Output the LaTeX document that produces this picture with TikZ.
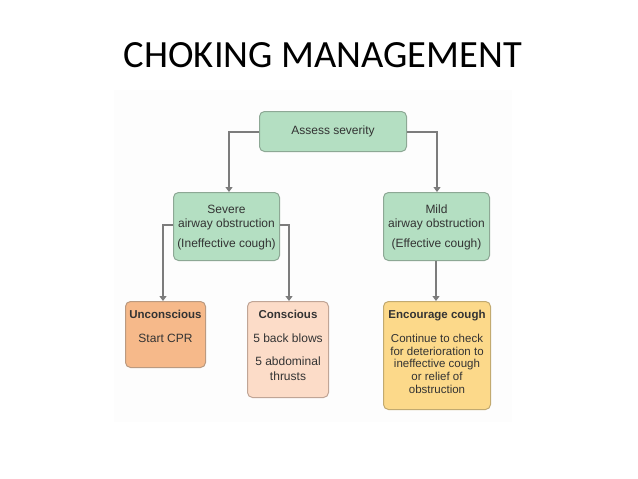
\documentclass[tikz,border=0pt]{standalone}
\usepackage{fontspec}
\setmainfont{Liberation Sans}
\newfontfamily\titlefont{Carlito}
\usetikzlibrary{arrows.meta}
\definecolor{gfill}{HTML}{B4DFC2}
\definecolor{gdraw}{HTML}{8DA895}
\definecolor{ofill}{HTML}{F6B98A}
\definecolor{odraw}{HTML}{BB9A80}
\definecolor{pfill}{HTML}{FCDCC8}
\definecolor{pdraw}{HTML}{C0A596}
\definecolor{yfill}{HTML}{FCD98A}
\definecolor{ydraw}{HTML}{C2AA70}
\definecolor{txt}{HTML}{333333}
\definecolor{arr}{HTML}{7C7C7C}
\definecolor{bgpanel}{HTML}{FDFDFD}
\tikzset{
  box/.style={draw=#1, line width=1pt, rounded corners=5pt, inner sep=0pt, anchor=north west},
  lbl/.style={text=txt, font=\fontsize{12}{14}\selectfont, align=center, inner sep=0pt},
  conn/.style={draw=arr, line width=1.6pt, -{Triangle[width=7pt,length=5pt]}}
}
\begin{document}
\begin{tikzpicture}[x=1pt,y=-1pt]
\useasboundingbox (0,0) rectangle (638,479);
\fill[white] (0,0) rectangle (638,479);
\fill[bgpanel] (114,90) rectangle (512,422);
\node[anchor=base, font=\titlefont\fontsize{38.5}{42}\selectfont] (title) at (323,67) {CHOKING MANAGEMENT};

% boxes
\node[box=gdraw, fill=gfill, minimum width=147pt, minimum height=40pt] (assess) at (259,111) {};
\node[lbl] (assesst) at (assess.center) {Assess severity};

\node[box=gdraw, fill=gfill, minimum width=106pt, minimum height=68pt] (severe) at (173,192) {};
\node[lbl] (severet) at ([yshift=-1pt]severe.center) {Severe\\airway obstruction\\[6pt](Ineffective cough)};

\node[box=gdraw, fill=gfill, minimum width=106pt, minimum height=68pt] (mild) at (383,192) {};
\node[lbl] (mildt) at ([yshift=-1pt]mild.center) {Mild\\airway obstruction\\[6pt](Effective cough)};

\node[box=odraw, fill=ofill, minimum width=80pt, minimum height=66pt] (uncon) at (125,301) {};
\node[lbl, anchor=north] (uncont) at ([yshift=-9pt]uncon.north) {\bfseries\fontsize{11.5}{14}\selectfont Unconscious\\[10pt]Start CPR};

\node[box=pdraw, fill=pfill, minimum width=81pt, minimum height=96pt] (con) at (247,301) {};
\node[lbl, anchor=north, font=\fontsize{12}{15}\selectfont] (cont) at ([yshift=-9pt]con.north) {{\bfseries\fontsize{11.5}{14}\selectfont Conscious}\\[9pt]5 back blows\\[8pt]5 abdominal\\thrusts};

\node[box=ydraw, fill=yfill, minimum width=107pt, minimum height=108pt] (enc) at (383,301) {};
\node[lbl, anchor=north, font=\fontsize{11.5}{12.75}\selectfont] (enct) at ([yshift=-9pt]enc.north) {{\bfseries Encourage cough}\\[11pt]Continue to check\\for deterioration to\\ineffective cough\\or relief of\\obstruction};

% connectors
\draw[conn] (assess.west |- 0,132) -| (severe.north -| 229,0);
\draw[conn] (assess.east |- 0,132) -| (mild.north -| 437,0);
\draw[conn] (severe.west |- 0,225) -| (uncon.north -| 163,0);
\draw[conn] (severe.east |- 0,225) -| (con.north -| 289,0);
\draw[conn] (mild.south -| 436,0) -- (enc.north -| 436,0);
\end{tikzpicture}
\end{document}
